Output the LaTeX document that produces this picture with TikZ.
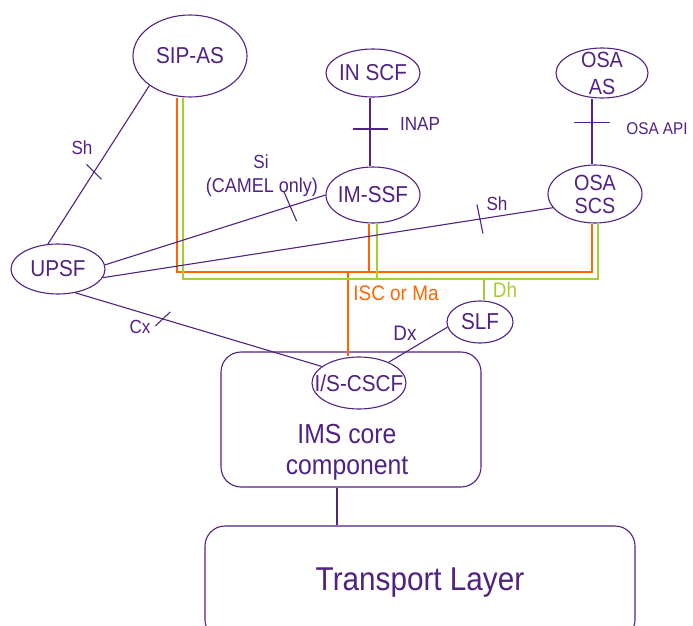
\documentclass[tikz,border=0pt]{standalone}
\usepackage{fontspec}
\usepackage{graphicx}
\setmainfont{Liberation Sans}
\usetikzlibrary{shapes.geometric,calc}
\definecolor{pur}{RGB}{80,35,130}
\definecolor{orng}{RGB}{255,102,0}
\definecolor{grn}{RGB}{170,204,51}
\newcommand{\fs}[1]{\fontsize{#1}{#1}\selectfont}
\newcommand{\cn}[1]{\scalebox{0.9}[1]{#1}}
\tikzset{
  ent/.style={ellipse, draw=pur, line width=1.1pt, inner sep=0pt},
  lbl/.style={text=pur, font=\fs{23}, align=center, inner sep=0pt},
  elbl/.style={text=pur, inner sep=0pt, align=center},
  link/.style={draw=pur, line width=1.1pt},
  obus/.style={draw=orng, line width=2.8pt, line join=miter},
  gbus/.style={draw=grn, line width=2.8pt, line join=miter},
  boxr/.style={draw=pur, line width=1.1pt, rounded corners=20pt},
}
\begin{document}
\begin{tikzpicture}[x=1pt,y=-1pt]
\useasboundingbox (0,0) rectangle (693,626);
\fill[white] (0,0) rectangle (693,626);

% boxes
\node[boxr, minimum width=260pt, minimum height=135pt] (ims) at (351,419.5) {};
\node[elbl, font=\fs{27.5}, align=center] (imstext) at (347,452) {\cn{IMS core}\\[3pt]\cn{component}};
\node[boxr, minimum width=430pt, minimum height=114pt, text=pur, font=\fs{33}] (trans) at (420,583) {\cn{Transport Layer}};

% entities
\node[ent, minimum width=114pt, minimum height=82pt, label={[lbl]center:\cn{SIP-AS}}] (sipas) at (190,56) {};
\node[ent, minimum width=94pt, minimum height=48pt, label={[lbl]center:\cn{IN SCF}}] (inscf) at (373,73) {};
\node[ent, minimum width=94pt, minimum height=56pt, label={[lbl]center:\cn{IM-SSF}}] (imssf) at (373,195) {};
\node[ent, minimum width=92pt, minimum height=50pt, label={[lbl, font=\fs{22}]center:\cn{OSA}\\[5pt]\cn{AS}}] (osaas) at (602,73) {};
\node[ent, minimum width=94pt, minimum height=58pt, label={[lbl, font=\fs{22}]center:\cn{OSA}\\[1pt]\cn{SCS}}] (osascs) at (595,194) {};
\node[ent, minimum width=94pt, minimum height=50pt, label={[lbl]center:\cn{UPSF}}] (upsf) at (58,269) {};
\node[ent, minimum width=66pt, minimum height=42pt, label={[lbl]center:\cn{SLF}}] (slf) at (480,322) {};
\node[ent, minimum width=94pt, minimum height=52pt, label={[lbl]center:\cn{I/S-CSCF}}] (iscscf) at (359,383) {};

% bus coordinates
\coordinate (obusR) at (592,272);
\coordinate (obusM) at (369,272);
\coordinate (obusC) at (348,272);
\coordinate (gbusR) at (598,279);
\coordinate (gbusM) at (377,279);
\coordinate (gbusS) at (484,279);

% orange ISC / Ma bus
\draw[obus] ([xshift=-13pt]sipas.south) |- (obusR) -- ([xshift=-3pt]osascs.south);
\draw[obus] ([xshift=-4pt]imssf.south) -- (obusM);
\draw[obus] (obusC) -- ([xshift=-11pt]iscscf.north);
% green Dh bus
\draw[gbus] ([xshift=-7pt]sipas.south) |- (gbusR) -- ([xshift=3pt]osascs.south);
\draw[gbus] ([xshift=4pt]imssf.south) -- (gbusM);
\draw[gbus] (gbusS) -- ([xshift=4pt]slf.north);

\node[text=orng, font=\fs{21}, inner sep=0pt] (iscl) at (396,293) {\cn{ISC or Ma}};
\node[text=grn, font=\fs{21}, inner sep=0pt] (dhl) at (505,290) {\cn{Dh}};

% purple links
\draw[link] (sipas.216) -- (upsf.112) coordinate[pos=0.545] (t1);
\draw[link] (upsf.5) -- (imssf.180) coordinate[pos=0.84] (t2);
\draw[link] (upsf.-11.5) -- (osascs.198) coordinate[pos=0.838] (t3);
\draw[link] (upsf.-54) -- (iscscf.156) coordinate[pos=0.355] (t4);
\draw[link] (slf.189) -- (iscscf.35);
\draw[link] ([xshift=-3pt]inscf.south) -- ([xshift=-3pt]imssf.north) coordinate[pos=0.457] (t5);
\draw[link] ([xshift=-10pt]osaas.south) -- ([xshift=-3pt]osascs.north) coordinate[pos=0.36] (t6);
\draw[link] ([xshift=-14pt]ims.south) -- ([xshift=-83pt]trans.north);

% ticks
\draw[link] ($(t1)+(-7.5,-7.5)$) -- ($(t1)+(7.5,7.5)$);
\draw[link] ($(t2)+(-6.5,-15)$) -- ($(t2)+(6.5,15)$);
\draw[link] ($(t3)+(-3,-14.5)$) -- ($(t3)+(3,14.5)$);
\draw[link] ($(t4)+(-7.5,7)$) -- ($(t4)+(7.5,-7)$);
\draw[link] ($(t5)+(-17.5,0)$) -- ($(t5)+(17.5,0)$);
\draw[link] ($(t6)+(-18,0)$) -- ($(t6)+(18,0)$);

% link labels
\node[elbl, font=\fs{19}] (shl1) at (82,148) {\cn{Sh}};
\node[elbl, font=\fs{19}] (sil) at (261,162) {\cn{Si}};
\node[elbl, font=\fs{20}] (caml) at (262,187) {\cn{(CAMEL only)}};
\node[elbl, font=\fs{19}] (inapl) at (420,124) {\cn{INAP}};
\node[elbl, font=\fs{17}] (osaapil) at (657,129) {\cn{OSA API}};
\node[elbl, font=\fs{19}] (shl2) at (497,204) {\cn{Sh}};
\node[elbl, font=\fs{19}] (cxl) at (140,327) {\cn{Cx}};
\node[elbl, font=\fs{21}] (dxl) at (405,333) {\cn{Dx}};
\end{tikzpicture}
\end{document}
